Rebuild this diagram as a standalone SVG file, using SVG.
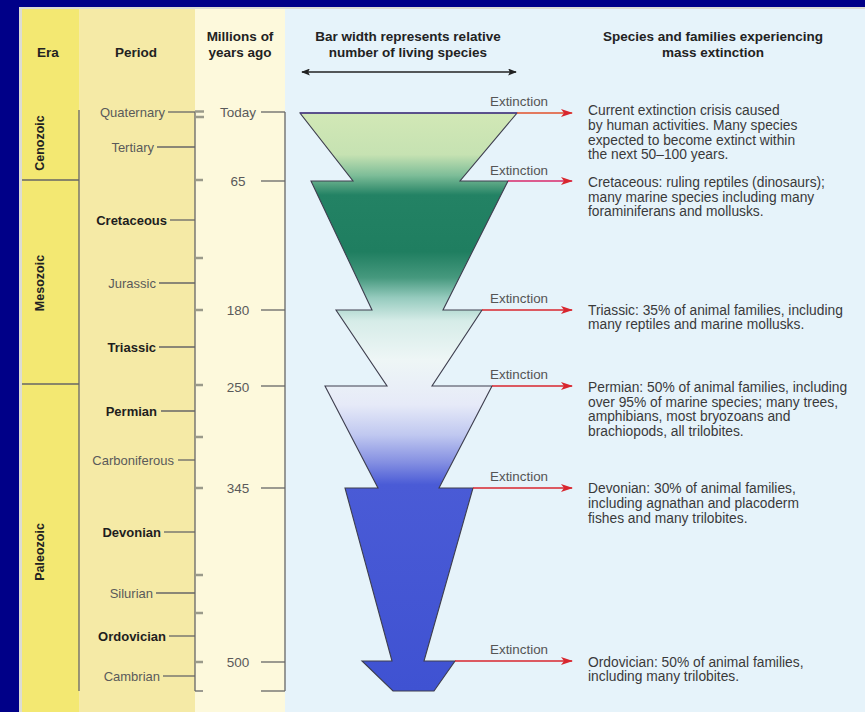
<svg xmlns="http://www.w3.org/2000/svg" width="865" height="712" viewBox="0 0 865 712">
<defs>
<style>
text{font-family:"Liberation Sans",Arial,sans-serif;}
.hdr{font-size:13.5px;font-weight:bold;fill:#222;text-anchor:middle;}
.era{font-size:12.5px;font-weight:bold;fill:#222;text-anchor:middle;}
.pl{font-size:13px;fill:#5a5a5a;text-anchor:end;}
.pb{font-size:13px;font-weight:bold;fill:#1e1e1e;text-anchor:end;}
.yr{font-size:13.5px;fill:#5a5a5a;text-anchor:middle;}
.ext{font-size:13.4px;fill:#555;}
.desc{font-size:13.8px;fill:#3a3a3a;}
.ln{stroke:#666;stroke-width:1.3;fill:none;}
.tk{stroke:#9a9a8a;stroke-width:2.4;fill:none;}
.arr{stroke:#d8262e;stroke-width:1.6;fill:none;marker-end:url(#ah);}
</style>
<marker id="ah" viewBox="0 0 12 8" refX="11" refY="4" markerWidth="12" markerHeight="8" markerUnits="userSpaceOnUse" orient="auto">
<path d="M0,0 L12,4 L0,8 L3,4 z" fill="#d8262e"/>
</marker>
<marker id="bk" viewBox="0 0 10 8" refX="9" refY="4" markerWidth="10" markerHeight="7" markerUnits="userSpaceOnUse" orient="auto-start-reverse">
<path d="M0,0 L10,4 L0,8 L2,4 z" fill="#222"/>
</marker>
<linearGradient id="barg" gradientUnits="userSpaceOnUse" x1="0" y1="113" x2="0" y2="691">
<stop offset="0" stop-color="#d2e8b6"/>
<stop offset="0.072" stop-color="#c6e2b2"/>
<stop offset="0.108" stop-color="#7dbd98"/>
<stop offset="0.142" stop-color="#238264"/>
<stop offset="0.24" stop-color="#1f7e60"/>
<stop offset="0.285" stop-color="#46997e"/>
<stop offset="0.32" stop-color="#96cbbe"/>
<stop offset="0.36" stop-color="#d6ece8"/>
<stop offset="0.427" stop-color="#eef6f6"/>
<stop offset="0.505" stop-color="#e6eaf8"/>
<stop offset="0.557" stop-color="#c0c8f0"/>
<stop offset="0.604" stop-color="#8590e2"/>
<stop offset="0.643" stop-color="#4a5bd6"/>
<stop offset="1" stop-color="#3f52d2"/>
</linearGradient>
</defs>

<!-- background frame -->
<rect x="0" y="0" width="865" height="712" fill="#000088"/>
<rect x="19" y="7" width="846" height="705" fill="#dcdcd4"/>
<rect x="22" y="9" width="57" height="703" fill="#f3e872"/>
<rect x="79" y="9" width="116" height="703" fill="#f5eaa6"/>
<rect x="195" y="9" width="90" height="703" fill="#fdf9dc"/>
<rect x="285" y="9" width="580" height="703" fill="#e6f3fa"/>

<!-- headers -->
<g id="headers">
<text class="hdr" x="48" y="57">Era</text>
<text class="hdr" x="136" y="57">Period</text>
<text class="hdr" x="240" y="41">Millions of</text>
<text class="hdr" x="240" y="57">years ago</text>
<text class="hdr" x="408" y="41">Bar width represents relative</text>
<text class="hdr" x="408" y="57">number of living species</text>
<text class="hdr" x="713" y="41">Species and families experiencing</text>
<text class="hdr" x="713" y="57">mass extinction</text>
<line x1="302" y1="72" x2="516" y2="72" stroke="#222" stroke-width="1.3" marker-start="url(#bk)" marker-end="url(#bk)"/>
</g>

<!-- era column -->
<g id="eras">
<line x1="79" y1="110" x2="79" y2="691" class="ln"/>
<line x1="22" y1="180" x2="79" y2="180" class="ln"/>
<line x1="22" y1="384" x2="79" y2="384" class="ln"/>
<text class="era" transform="translate(44,143) rotate(-90)">Cenozoic</text>
<text class="era" transform="translate(44,283) rotate(-90)">Mesozoic</text>
<text class="era" transform="translate(44,552) rotate(-90)">Paleozoic</text>
</g>

<!-- period column -->
<g id="periods">
<line x1="195" y1="112" x2="195" y2="691" class="ln"/>
<path class="tk" d="M195,111.5 H204 M195,117 H204 M195,180 H203 M195,258 H203 M195,310 H203 M195,385 H203 M195,437 H203 M195,488 H203 M195,575 H203 M195,613 H203 M195,662 H203"/>
<line x1="195" y1="691" x2="203" y2="691" class="ln"/>
<text class="pl" x="165" y="117">Quaternary</text><line class="ln" x1="168" y1="112" x2="195" y2="112"/>
<text class="pl" x="154" y="152">Tertiary</text><line class="ln" x1="157" y1="147" x2="195" y2="147"/>
<text class="pb" x="167" y="225">Cretaceous</text><line class="ln" x1="170" y1="220" x2="195" y2="220"/>
<text class="pl" x="156" y="288">Jurassic</text><line class="ln" x1="159" y1="283" x2="195" y2="283"/>
<text class="pb" x="156" y="352">Triassic</text><line class="ln" x1="159" y1="347" x2="195" y2="347"/>
<text class="pb" x="157" y="416">Permian</text><line class="ln" x1="161" y1="411" x2="195" y2="411"/>
<text class="pl" x="174" y="465">Carboniferous</text><line class="ln" x1="178" y1="460" x2="195" y2="460"/>
<text class="pb" x="161" y="537">Devonian</text><line class="ln" x1="164" y1="532" x2="195" y2="532"/>
<text class="pl" x="153" y="598">Silurian</text><line class="ln" x1="156" y1="593" x2="195" y2="593"/>
<text class="pb" x="166" y="641">Ordovician</text><line class="ln" x1="169" y1="636" x2="195" y2="636"/>
<text class="pl" x="160" y="681">Cambrian</text><line class="ln" x1="163" y1="676" x2="195" y2="676"/>
</g>

<!-- years column -->
<g id="years">
<line x1="285" y1="112" x2="285" y2="691" class="ln"/>
<text class="yr" x="238" y="117">Today</text><line class="ln" x1="261" y1="112" x2="285" y2="112"/>
<text class="yr" x="238" y="186">65</text><line class="ln" x1="261" y1="181" x2="285" y2="181"/>
<text class="yr" x="238" y="315">180</text><line class="ln" x1="261" y1="310" x2="285" y2="310"/>
<text class="yr" x="238" y="392">250</text><line class="ln" x1="261" y1="386" x2="285" y2="386"/>
<text class="yr" x="238" y="493">345</text><line class="ln" x1="261" y1="488" x2="285" y2="488"/>
<text class="yr" x="238" y="667">500</text><line class="ln" x1="261" y1="662" x2="285" y2="662"/>
<line class="ln" x1="261" y1="691" x2="285" y2="691"/>
</g>

<!-- diversity bar -->
<g id="bar">
<polygon points="300,113 517,113 460,181 508,181 443,310 482,310 432,386 492,386 439,488 473,488 424,661 455,661 434,691 393,691 362,661 392,661 345,488 378,488 325,386 387,386 336,310 372,310 311,181 353,181" fill="url(#barg)" stroke="#3e3e4e" stroke-width="1.1"/>
<line x1="300" y1="113" x2="517" y2="113" stroke="#4a3a8a" stroke-width="1.6"/>
</g>

<!-- connectors -->
<g id="connectors">
<line class="arr" x1="517" y1="113" x2="572" y2="113" style="stroke:#e0502a"/>
<line class="arr" x1="508" y1="181" x2="572" y2="181" style="stroke:#d8286a"/>
<line class="arr" x1="482" y1="310" x2="572" y2="310"/>
<line class="arr" x1="492" y1="386" x2="572" y2="386"/>
<line class="arr" x1="473" y1="488" x2="572" y2="488"/>
<line class="arr" x1="455" y1="661" x2="572" y2="661"/>
</g>

<g id="extinction-labels">
<text class="ext" x="490" y="106">Extinction</text>
<text class="ext" x="490" y="175">Extinction</text>
<text class="ext" x="490" y="303">Extinction</text>
<text class="ext" x="490" y="379">Extinction</text>
<text class="ext" x="490" y="481">Extinction</text>
<text class="ext" x="490" y="654">Extinction</text>
</g>

<!-- descriptions -->
<g id="desc-current">
<text class="desc" x="588" y="115">Current extinction crisis caused</text>
<text class="desc" x="588" y="130">by human activities. Many species</text>
<text class="desc" x="588" y="145">expected to become extinct within</text>
<text class="desc" x="588" y="159">the next 50–100 years.</text>
</g>
<g id="desc-cretaceous">
<text class="desc" x="588" y="187">Cretaceous: ruling reptiles (dinosaurs);</text>
<text class="desc" x="588" y="202">many marine species including many</text>
<text class="desc" x="588" y="216">foraminiferans and mollusks.</text>
</g>
<g id="desc-triassic">
<text class="desc" x="588" y="315">Triassic: 35% of animal families, including</text>
<text class="desc" x="588" y="329">many reptiles and marine mollusks.</text>
</g>
<g id="desc-permian">
<text class="desc" x="588" y="392">Permian: 50% of animal families, including</text>
<text class="desc" x="588" y="407">over 95% of marine species; many trees,</text>
<text class="desc" x="588" y="421">amphibians, most bryozoans and</text>
<text class="desc" x="588" y="436">brachiopods, all trilobites.</text>
</g>
<g id="desc-devonian">
<text class="desc" x="588" y="493">Devonian: 30% of animal families,</text>
<text class="desc" x="588" y="508">including agnathan and placoderm</text>
<text class="desc" x="588" y="523">fishes and many trilobites.</text>
</g>
<g id="desc-ordovician">
<text class="desc" x="588" y="667">Ordovician: 50% of animal families,</text>
<text class="desc" x="588" y="681">including many trilobites.</text>
</g>
</svg>
